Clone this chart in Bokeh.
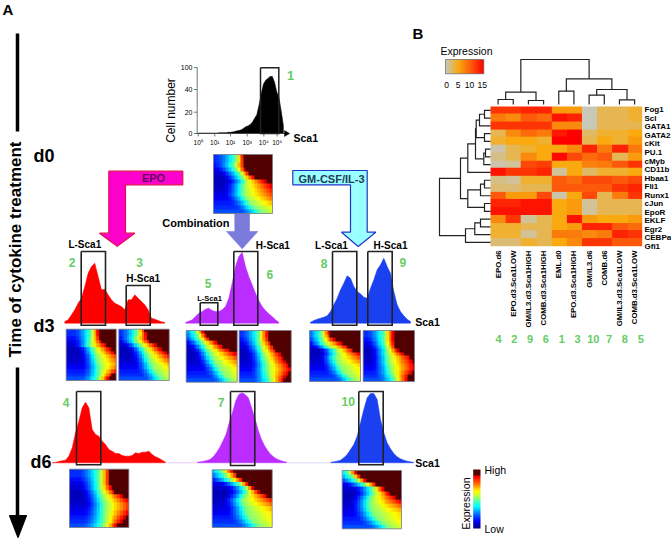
import numpy as np
from bokeh.plotting import figure
from bokeh.models import Range1d, LinearColorMapper
from bokeh.core.properties import value
from bokeh.embed import file_html
from bokeh.resources import INLINE

# ---------- heat map data ----------
samples = ["EPO.d6", "EPO.d3.Sca1LOW", "GM/IL3.d3.Sca1HIGH", "COMB.d3.Sca1HIGH", "EML.d0",
           "EPO.d3.Sca1HIGH", "GM/IL3.d6", "COMB.d6", "GM/IL3.d3.Sca1LOW", "COMB.d3.Sca1LOW"]
sample_ids = ["4", "2", "9", "6", "1", "3", "10", "7", "8", "5"]
genes = ["Fog1", "Scl", "GATA1", "GATA2", "cKit", "PU.1", "cMyb", "CD11b", "Hbaa1", "Fli1",
         "Runx1", "cJun", "EpoR", "EKLF", "Egr2", "CEBPa", "Gfi1"]
r00 = [12, 12, 13, 13, 6, 6, 0, 3, 3, 4]
r01 = [8, 7, 10, 9, 14, 13, 0, 3, 3, 4]
r02 = [12, 12, 12, 12, 7, 7, 0, 3, 3, 3]
r03 = [3, 7, 9, 8, 13.5, 15, 2.5, 4, 4, 5]
r04 = [4, 5, 5, 4, 15, 15, 3, 5, 4, 6]
r05 = [0.5, 3, 4, 5, 5, 7, 13, 8, 13, 8]
r06 = [1.5, 3, 7, 5, 14.5, 11, 9, 10, 3, 6]
r07 = [0.5, 1, 11, 11.5, 5, 5, 7.5, 8, 10, 12]
r08 = [14, 12, 12, 13, 1, 5, 2.5, 4, 4, 5]
r09 = [1.5, 1, 4, 4, 10, 9, 11, 11, 10, 11]
r10 = [2, 2, 3, 3, 10, 10, 10, 10, 12, 13]
r11 = [10, 6, 6, 11, 0.5, 5, 11, 3, 8, 12]
r12 = [13, 13, 14, 14, 5, 6, 1, 3, 3, 3]
r13 = [14, 14, 14, 14, 5, 6, 1, 3, 3, 3]
r14 = [7, 12, 1, 3, 5, 14, 6, 5, 5, 6]
r15 = [4, 4, 3, 3, 5, 6, 13, 13, 10, 9]
r16 = [4, 4, 1, 3, 8, 8, 7, 8, 13, 12]
r17 = [2, 2, 4, 3, 5, 7, 12, 12, 10, 10]
heat_rows = [r00, r01, r02, r03, r04, r05, r06, r07, r08, r09, r10, r11, r12, r13, r14, r15, r16, r17]
heat_ticks = ["0", "5", "10", "15"]

# dendrograms: (child a, child b, height); child >= leaf count refers to an earlier merge
col_merges = [(0, 1, 5), (2, 3, 4), (10, 11, 12.3), (4, 5, 13.3), (8, 9, 4.7), (6, 7, 9.3),
              (14, 15, 15), (13, 16, 25.7), (12, 17, 45)]
row_merges = [(0, 1, 6), (18, 2, 11), (3, 4, 6), (19, 20, 14.3), (5, 6, 5), (22, 7, 6.7),
              (21, 23, 15), (24, 8, 22.7), (9, 10, 6), (26, 11, 10), (12, 13, 6),
              (27, 28, 22.7), (25, 29, 30), (14, 15, 10), (31, 16, 15.7), (32, 17, 25),
              (30, 33, 51)]

# ---------- histograms (cell counts) ----------
h_d0 = [1, 1, 1, 1, 1, 1, 1, 1, 1, 1, 2, 2, 2, 2, 3, 3, 4, 5, 7, 8, 10, 14, 18, 20, 24, 30, 40,
        50, 75, 105, 130, 140, 145, 150, 150, 135, 110, 95, 60, 22]
h_epo_d3 = [5, 10, 25, 40, 60, 75, 110, 150, 170, 180, 140, 100, 102, 85, 70, 60, 55, 50, 40, 70,
            70, 85, 75, 65, 55, 40, 15, 12, 8, 4, 2]
h_comb_d3 = [2, 6, 10, 20, 30, 35, 42, 45, 38, 35, 35, 40, 50, 75, 120, 170, 200, 213, 170, 140,
             115, 90, 68, 50, 38, 28, 20, 10, 3]
h_gm_d3 = [3, 8, 12, 15, 18, 22, 35, 55, 75, 100, 120, 142, 135, 110, 95, 88, 78, 75, 105, 130,
           160, 175, 195, 170, 150, 95, 55, 35, 22, 12, 5]
h_epo_d6 = [0, 1, 4, 6, 8, 20, 45, 90, 125, 165, 182, 165, 100, 85, 80, 65, 55, 40, 35, 28, 28, 22,
            20, 20, 22, 30, 28, 32, 32, 35, 25, 18, 14, 8, 2]
h_comb_d6 = [2, 3, 5, 7, 10, 18, 30, 45, 65, 85, 120, 150, 185, 205, 210, 205, 195, 165, 135, 100,
             72, 52, 37, 25, 17, 11, 7, 4, 2]
h_gm_d6 = [1, 3, 5, 8, 15, 25, 40, 55, 80, 120, 160, 195, 208, 208, 190, 130, 90, 60, 42, 28, 18,
           12, 8, 5, 3, 1]
d0_yticks = ["100", "40", "20", "0"]
d0_xticks = ["10⁰", "10¹", "10²", "10³", "10⁴", "10⁵"]

# ---------- density maps: for each row, where the colour reaches green and dark red ----------
front_d0 = [.38, .38, .35, .38, .44, .48, .53, .50, .50, .50, .55, .62, .70, .80]
hot_d0 = [.52, .53, .55, .56, .65, .75, .95, 1.1, 1.2, 1.3, 1.4, 1.6, 2, 2]
front_2 = [.50, .50, .49, .48, .47, .55, .57, .60, .62, .64, .66, .66, .66, .64]
hot_2 = [.66, .67, .70, .75, .85, .95, 1.05, 1.2, 1.3, 1.4, 1.3, 1.1, .98, .88]
front_3 = [.36, .36, .33, .34, .42, .50, .54, .57, .60, .64, .66, .72, .78, .84]
hot_3 = [.55, .58, .60, .68, .80, .90, 1.02, 1.15, 1.3, 1.5, 1.7, 2, 2, 2]
front_5 = [.20, .23, .26, .32, .38, .43, .47, .51, .55, .60, .65, .71, .77, .85]
hot_5 = [.36, .42, .50, .65, .78, .92, 1.1, 1.3, 1.5, 1.7, 2, 2, 2, 2]
front_6 = [.38, .38, .38, .39, .42, .44, .47, .49, .51, .53, .53, .55, .57, .60]
hot_6 = [.58, .58, .60, .66, .72, .78, .86, .92, .96, 1.05, 1.1, 1.02, .94, .90]
front_8 = [.24, .24, .26, .29, .38, .51, .53, .51, .53, .57, .61, .67, .75, .83]
hot_8 = [.42, .46, .52, .70, .85, .95, 1.1, 1.3, 1.5, 1.8, 2, 2, 2, 2]
front_9 = [.41, .41, .41, .42, .44, .46, .46, .48, .48, .50, .52, .54, .58, .62]
hot_9 = [.62, .62, .62, .64, .66, .72, .85, 1, 1.05, 1.1, 1.1, 1.02, .93, .90]
front_4 = [.50, .50, .50, .50, .50, .52, .54, .56, .58, .58, .58, .58, .58, .56]
hot_4 = [.70, .70, .70, .70, .74, .82, .98, 1.1, 1.2, 1.2, 1.1, 1.0, .94, .85]
front_7 = [.16, .23, .31, .46, .56, .58, .54, .50, .52, .56, .58, .62, .68, .76]
hot_7 = [.38, .46, .55, .62, .70, .82, 1.0, 1.2, 1.4, 1.7, 2, 2, 2, 2]
front_10 = [.11, .17, .25, .38, .51, .52, .48, .46, .46, .48, .52, .58, .66, .76]
hot_10 = [.25, .33, .42, .60, .72, .86, 1.0, 1.15, 1.4, 1.7, 2, 2, 2, 2]
left_level = [.17, .17, .14, .10, .08, .06, .06, .07, .08, .10, .12, .15, .17, .20]

# ---------- figure in reference pixel coordinates ----------
p = figure(width=671, height=539, x_range=Range1d(0, 671), y_range=Range1d(0, 539),
           output_backend="svg", toolbar_location=None, x_axis_location=None, y_axis_location=None,
           min_border=0, outline_line_color=None, background_fill_color="white")
p.grid.visible = False
FONT = "Liberation Sans"


def Y(py):
    return 539 - np.asarray(py, dtype=float)


def txt(x, py, s, size=10, bold=True, color="#000000", align="center", angle=0.0, base="middle"):
    p.text([x], [Y(py)], text=[s], text_font=value(FONT), text_font_size=f"{size}px",
           text_font_style="bold" if bold else "normal", text_color=color, text_align=align,
           text_baseline=base, angle=angle)


def line(xs, pys, color="#111111", width=1.0):
    p.line(xs, Y(pys), line_color=color, line_width=width, line_cap="butt", line_join="miter")


def poly(xs, pys, fill, edge, width=1.2):
    p.patch(xs, Y(pys), fill_color=fill, line_color=edge, line_width=width)


def jet_color(v):
    r = np.clip(min(4 * v - 1.5, -4 * v + 4.5), 0, 1)
    g = np.clip(min(4 * v - 0.5, -4 * v + 3.5), 0, 1)
    b = np.clip(min(4 * v + 0.5, -4 * v + 2.5), 0, 1)
    return "#%02x%02x%02x" % (int(r * 255), int(g * 255), int(b * 255))


JET = [jet_color(i / 255) for i in range(256)]
JET[-22:] = ["#500000"] * 22
jet_map = LinearColorMapper(palette=JET, low=0, high=1)


def ramp_color(stops, n=256):
    out = []
    for i in range(n):
        t = i / (n - 1) * (len(stops) - 1)
        k = min(int(t), len(stops) - 2)
        f = t - k
        c = [stops[k][j] * (1 - f) + stops[k + 1][j] * f for j in range(3)]
        out.append("#%02x%02x%02x" % tuple(int(x) for x in c))
    return out


HEAT = ramp_color([(200, 200, 185), (250, 170, 15), (252, 90, 10), (255, 0, 0)])
heat_map = LinearColorMapper(palette=HEAT, low=0, high=15)

# ---------- panel labels ----------
txt(2, 9, "A", 15, align="left")
txt(412, 33, "B", 15, align="left")

# time axis
line([17, 17], [33, 131], "#000000", 3.5)
line([17, 17], [367, 517], "#000000", 3.5)
poly([9, 26, 17.5], [515, 515, 537], "#000000", "#000000")
txt(15, 249, "Time of cytokine treatment", 17, angle=np.pi / 2)
txt(33, 155, "d0", 18, align="left")
txt(33, 325, "d3", 18, align="left")
txt(30, 461, "d6", 18, align="left")

# ---------- d0 histogram ----------
x0, step = 197.0, 2.2
hx = x0 + step * np.arange(len(h_d0))
hy = 133 - np.array(h_d0) * 0.38
poly(np.r_[hx[0], hx, hx[-1]], np.r_[133, hy, 133], "#000000", "#000000", 0.6)
line([196.7, 196.7], [67, 133], "#777777", 1)
line([196.7, 286], [133, 133], "#444444", 1)
for py, s in zip([67, 89, 111.7, 133], d0_yticks):
    line([193.5, 196.7], [py, py], "#555555", 0.8)
    txt(192, py, s, 7, False, align="right")
for x, s in zip([197.7, 214.3, 230, 246.7, 263.3, 276.7], d0_xticks):
    line([x, x], [133, 136], "#555555", 0.8)
    txt(x, 142, s, 6.5, False)
poly([284, 289, 284], [130, 133, 136], "#000000", "#000000", 0.5)
line([260, 278.3, 278.3, 260, 260], [67.3, 67.3, 133, 133, 67.3], "#222222", 1.5)
txt(170, 110, "Cell number", 12, False, angle=np.pi / 2)
txt(293, 137, "Sca1", 10.5, align="left")
txt(290, 75, "1", 13, color="#66cc66")


# ---------- other histograms ----------
def hist(values, x_start, x_step, base, color):
    v = np.array(values, dtype=float)
    xs = x_start + x_step * np.arange(len(v))
    ys = base - v / 3
    p.patch(np.r_[xs[0], xs, xs[-1]], Y(np.r_[base, ys, base]), fill_color=color, line_color=color,
            line_width=0.5)


def gate(x1, x2, py1, py2):
    line([x1, x2, x2, x1, x1], [py1, py1, py2, py2, py1], "#222222", 1.6)


RED, PUR, BLU, GRN = "#ff0000", "#ba2cff", "#1a40f0", "#66cc66"
hist(h_epo_d3, 64.3, 3.333, 322.7, RED)
hist(h_comb_d3, 185.0, 3.333, 322.7, PUR)
hist(h_gm_d3, 310.0, 3.333, 322.7, BLU)
hist(h_epo_d6, 51.7, 3.333, 462.3, RED)
hist(h_comb_d6, 196.7, 3.2, 462.3, PUR)
hist(h_gm_d6, 330.0, 3.333, 462.3, BLU)
line([167, 197], [462.3, 462.3], "#e8c8ff", 1)
line([288, 330], [462.3, 462.3], "#d8d8f8", 1)

gate(80.7, 105, 251, 324.7)
gate(125.7, 149.7, 285, 324.7)
gate(199.7, 217.3, 302.3, 324.7)
gate(233.3, 257.3, 251, 324.7)
gate(332, 356.3, 251, 324.7)
gate(367.3, 391.7, 251, 324.7)
gate(76, 100.3, 391, 464.3)
gate(230, 254.3, 391, 465)
gate(358.3, 382.7, 391, 464.3)

for x, py, s, sz in [(84.3, 244.3, "L-Sca1", 10), (142.7, 278, "H-Sca1", 10), (209, 297.7, "L-Sca1", 7.5),
                     (272.3, 245, "H-Sca1", 10), (331, 244.7, "L-Sca1", 10), (390, 244.7, "H-Sca1", 10)]:
    txt(x, py, s, sz)
for x, py, s in [(71.7, 262, "2"), (139, 262, "3"), (207.7, 282.7, "5"), (269.3, 274.3, "6"),
                 (323.7, 263.3, "8"), (402.3, 261.7, "9"), (65.7, 401.7, "4"), (220.7, 401.7, "7"),
                 (347.7, 400.7, "10")]:
    txt(x, py, s, 12, color=GRN)
txt(414.7, 321.7, "Sca1", 10.5, align="left")
txt(414.7, 462.3, "Sca1", 10.5, align="left")

# ---------- treatment arrows ----------
poly([108.3, 182.3, 182.3, 125, 125, 134.3, 116.7, 99, 108.3, 108.3],
     [170.7, 170.7, 184.3, 184.3, 232.7, 232.7, 245.7, 232.7, 232.7, 170.7], "#ff00cc", "#e0104f")
txt(153, 177.7, "EPO", 11, color="#600060")
poly([234.3, 249, 249, 257.3, 241.7, 226, 234.3, 234.3], [213.3, 213.3, 231, 231, 248.3, 231, 231, 213.3],
     "#7b7bdb", "#7b7bdb", 0.6)
txt(229, 222.7, "Combination", 11, align="right")
poly([292.3, 366.7, 366.7, 375.3, 357.7, 341, 350, 350, 292.3, 292.3],
     [170, 170, 231.7, 231.7, 246, 231.7, 231.7, 184.3, 184.3, 170], "#99ffff", "#2233cc")
txt(331, 178.3, "GM-CSF/IL-3", 11, color="#223a55")


# ---------- density maps ----------
def density(front, hot, x, py, w, h, ncol=20):
    rows = []
    for f, t, lo in zip(front, hot, left_level):
        xs = (np.arange(ncol) + 0.5) / ncol
        v = np.where(xs >= f, 0.5 + 0.5 * (xs - f) / (t - f),
                     lo + (0.5 - lo) * np.clip(1 - (f - xs) / 0.34, 0, 1) ** 1.5)
        rows.append(np.clip(v, 0, 1))
    img = np.array(rows)[::-1]
    p.image(image=[img], x=x, y=float(Y(py + h)), dw=w, dh=h, color_mapper=jet_map)
    line([x, x + w, x + w, x, x], [py, py, py + h, py + h, py], "#777788", 0.8)


density(front_d0, hot_d0, 213, 154, 59, 59)
density(front_2, hot_2, 65.7, 328.7, 50, 51.3)
density(front_3, hot_3, 118.3, 328.7, 50.4, 51.3)
density(front_5, hot_5, 185.7, 330, 51, 51.7)
density(front_6, hot_6, 238.7, 330, 52, 52)
density(front_8, hot_8, 309, 330, 51, 51)
density(front_9, hot_9, 362.7, 330, 51.3, 51)
density(front_4, hot_4, 69, 468.7, 59.3, 58.3)
density(front_7, hot_7, 211.7, 469.3, 60, 57.7)
density(front_10, hot_10, 341.7, 470, 59.3, 58.3)

# jet legend
p.image(image=[np.linspace(0, 1, 64).reshape(-1, 1)], x=472.7, y=float(Y(528)), dw=7.3, dh=59, color_mapper=jet_map)
txt(484, 469, "High", 10.5, False, align="left")
txt(484, 528, "Low", 10.5, False, align="left")
txt(465, 503, "Expression", 10.5, False, angle=np.pi / 2)

# ---------- cluster heat map ----------
HX, HW, HY, HH = 490.0, 151.7, 106.0, 139.7
arr = np.array(heat_rows, dtype=float)[::-1]
p.image(image=[arr], x=HX, y=float(Y(HY + HH)), dw=HW, dh=HH, color_mapper=heat_map)
cw = HW / len(samples)
rh = HH / len(heat_rows)

# top dendrogram
pos = [HX + cw * (i + .5) for i in range(len(samples))]
lev = [104.0] * len(samples)
for a, b, d in col_merges:
    top = 104 - d
    line([pos[a], pos[a], pos[b], pos[b]], [lev[a], top, top, lev[b]], "#222222", 1.2)
    pos.append((pos[a] + pos[b]) / 2)
    lev.append(top)

# left dendrogram
pos = [HY + rh * (i + .5) for i in range(len(heat_rows))]
lev = [490.0] * len(heat_rows)
for a, b, d in row_merges:
    xm = 490 - d
    line([lev[a], xm, xm, lev[b]], [pos[a], pos[a], pos[b], pos[b]], "#222222", 1.2)
    pos.append((pos[a] + pos[b]) / 2)
    lev.append(xm)

for i, g in enumerate(genes):
    txt(644, 109.3 + 8.54 * i, g, 8, align="left")
for i, s in enumerate(samples):
    txt(HX + cw * (i + .5), 250, s, 7.8, align="right", angle=np.pi / 2)
for i, s in enumerate(sample_ids):
    txt(498 + 15.8 * i, 338, s, 11, color=GRN)

# expression key
p.image(image=[np.linspace(0, 15, 64).reshape(1, -1)], x=445, y=float(Y(73.3)), dw=38.3, dh=14.3, color_mapper=heat_map)
line([445, 483.3, 483.3, 445, 445], [59, 59, 73.3, 73.3, 59], "#666666", 0.7)
for x, s in zip([446, 457.7, 469, 481.7], heat_ticks):
    txt(x, 84, s, 8.5, False)
txt(466, 50.7, "Expression", 10.5, False)

open("out.html", "w").write(file_html(p, INLINE))
